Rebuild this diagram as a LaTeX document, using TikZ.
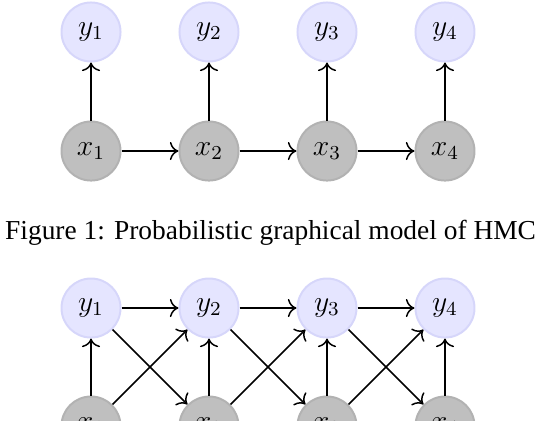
\documentclass[tikz,border=0pt]{standalone}
\usepackage{fontspec}
\setmainfont{Liberation Serif}
\usepackage{xcolor}
\usepackage{tikz}
\usetikzlibrary{
  arrows.meta,
  positioning
}
\definecolor{obscolor}{HTML}{E5E5FF}
\definecolor{obsborder}{HTML}{D6D6FA}
\definecolor{hidcolor}{HTML}{BFBFBF}
\definecolor{hidborder}{HTML}{B2B2B2}

\begin{document}
\begin{tikzpicture}[
  obs/.style={circle, draw=obsborder, fill=obscolor, line width=0.8pt,
              minimum size=0.84cm, inner sep=0pt, font=\large},
  hid/.style={circle, draw=hidborder, fill=hidcolor, line width=0.8pt,
              minimum size=0.84cm, inner sep=0pt, font=\large},
  arrow/.style={-{To[length=3.5pt]}, semithick},
  captext/.style={font=\fontsize{11.1}{13}\selectfont},
]
  \useasboundingbox (0, 0) rectangle (7.627, -5.977);
  \clip (0, 0) rectangle (7.627, -5.977);

  % HMC
  \node[obs] (y1) at (1.295, -0.455) {$y_1$};
  \node[obs] (y2) at (2.974, -0.455) {$y_2$};
  \node[obs] (y3) at (4.653, -0.455) {$y_3$};
  \node[obs] (y4) at (6.332, -0.455) {$y_4$};
  \node[hid] (x1) at (1.295, -2.149) {$x_1$};
  \node[hid] (x2) at (2.974, -2.149) {$x_2$};
  \node[hid] (x3) at (4.653, -2.149) {$x_3$};
  \node[hid] (x4) at (6.332, -2.149) {$x_4$};

  \draw[arrow] (x1) -- (y1);
  \draw[arrow] (x2) -- (y2);
  \draw[arrow] (x3) -- (y3);
  \draw[arrow] (x4) -- (y4);
  \draw[arrow] (x1) -- (x2);
  \draw[arrow] (x2) -- (x3);
  \draw[arrow] (x3) -- (x4);

  \node[captext] (caption) at (3.85, -3.316)
    {Figure 1: Probabilistic graphical model of HMC};

  % second model
  \node[obs] (b-y1) at (1.295, -4.383) {$y_1$};
  \node[obs] (b-y2) at (2.974, -4.383) {$y_2$};
  \node[obs] (b-y3) at (4.653, -4.383) {$y_3$};
  \node[obs] (b-y4) at (6.332, -4.383) {$y_4$};
  \node[hid] (b-x1) at (1.295, -6.062) {$x_1$};
  \node[hid] (b-x2) at (2.974, -6.062) {$x_2$};
  \node[hid] (b-x3) at (4.653, -6.062) {$x_3$};
  \node[hid] (b-x4) at (6.332, -6.062) {$x_4$};

  \draw[arrow] (b-y1) -- (b-y2);
  \draw[arrow] (b-y2) -- (b-y3);
  \draw[arrow] (b-y3) -- (b-y4);
  \draw[arrow] (b-x1) -- (b-y1);
  \draw[arrow] (b-x2) -- (b-y2);
  \draw[arrow] (b-x3) -- (b-y3);
  \draw[arrow] (b-x4) -- (b-y4);
  \draw[arrow] (b-x1) -- (b-y2);
  \draw[arrow] (b-x2) -- (b-y3);
  \draw[arrow] (b-x3) -- (b-y4);
  \draw[arrow] (b-y1) -- (b-x2);
  \draw[arrow] (b-y2) -- (b-x3);
  \draw[arrow] (b-y3) -- (b-x4);
\end{tikzpicture}
\end{document}
